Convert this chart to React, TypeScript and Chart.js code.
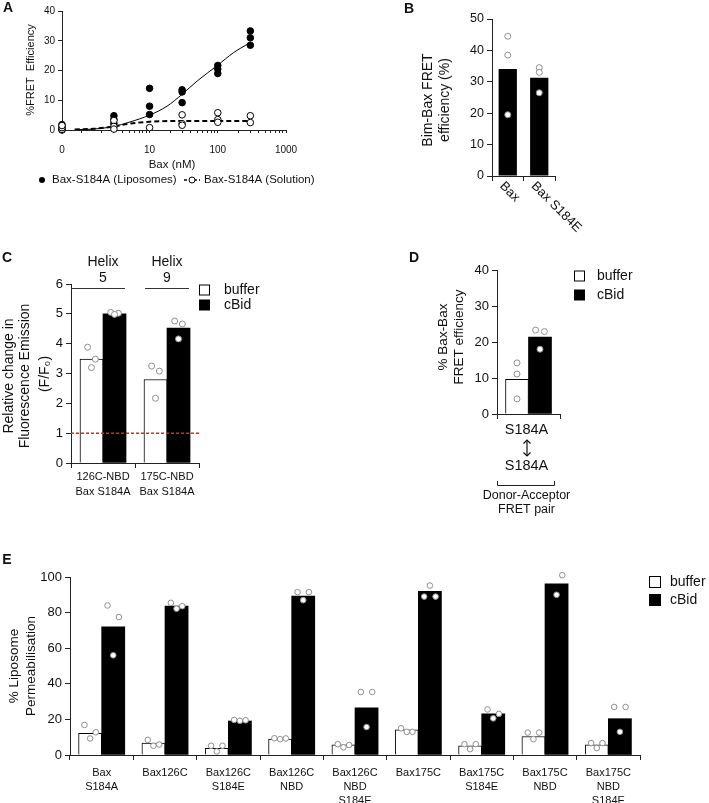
import React, { useEffect, useRef } from 'react';
import { Chart, registerables } from 'chart.js';
Chart.register(...registerables);

const FONT = '"Liberation Sans", Arial, Helvetica, sans-serif';
const INK = '#111111';
const AXIS = '#222222';
const DOT_EDGE = '#8f8f8f';

// ---------------- Panel A ----------------
const A_CONC = [0, 3, 10, 30, 100, 300];
const A_LIPOSOMES = [[0, 0.5, 1.2, 1.8], [4.8, 3.5, 2.2, -2], [14, 8, 5.2], [13.5, 12.8, 9.2], [21.7, 20.5, 19], [33.3, 31, 28.5]];
const A_SOLUTION = [[0.2, 0.8, 1.5], [3.2, 1.2, 0.3], [0.8, -2.5], [5.1, 2.1, 1.6], [5.8, 3.5, 2.6], [4.8, 2.5]];
const A_FIT_LIPO_X = [0.8, 1.5, 3, 5, 10, 18, 30, 50, 100, 170, 300];
const A_FIT_LIPO_Y = [0.1, 0.3, 1.2, 2.6, 5, 8, 12, 16.5, 21.8, 26, 29.4];
const A_FIT_SOL_X = [0.8, 1.5, 3, 5, 10, 20, 300];
const A_FIT_SOL_Y = [0.2, 0.4, 1.2, 2.1, 2.8, 3, 3];
const A_X_MIN = 0.52;
const A_MAJOR_TICKS = [A_X_MIN, 10, 100, 1000];
const A_MAJOR_LABELS = ['0', '10', '100', '1000'];
const A_MINOR_TICKS = [1, 2, 3, 4, 5, 6, 7, 8, 9, 20, 30, 40, 50, 60, 70, 80, 90, 200, 300, 400, 500, 600, 700, 800, 900];
const A_SERIES = ['Bax-S184A (Liposomes)', 'Bax-S184A (Solution)'];

// ---------------- Panel B ----------------
const B_CATS = ['Bax', 'Bax S184E'];
const B_MEANS = [34.1, 31.3];
const B_DOTS = [[44.5, 38.5, 19.5], [34.5, 33, 26.5]];

// ---------------- Panel C ----------------
const C_CATS = [['126C-NBD', 'Bax S184A'], ['175C-NBD', 'Bax S184A']];
const C_HELIX = ['5', '9'];
const C_BUFFER = [3.48, 2.8];
const C_CBID = [5.0, 4.52];
const C_BUFFER_DOTS = [[3.88, 3.48, 3.2], [3.25, 3.08, 2.17]];
const C_CBID_DOTS = [[5.05, 5.02, 4.98], [4.76, 4.66, 4.16]];

// ---------------- Panel D ----------------
const D_CATS = ['S184A'];
const D_BUFFER = [9.6];
const D_CBID = [21.4];
const D_BUFFER_DOTS = [[14.2, 11.1, 4.2]];
const D_CBID_DOTS = [[23.3, 22.9, 18]];

// ---------------- Panel E ----------------
const E_CATS = [['Bax', 'S184A'], ['Bax126C'], ['Bax126C', 'S184E'], ['Bax126C', 'NBD'], ['Bax126C', 'NBD', 'S184E'], ['Bax175C'], ['Bax175C', 'S184E'], ['Bax175C', 'NBD'], ['Bax175C', 'NBD', 'S184E']];
const E_BUFFER = [12.2, 6.7, 3.7, 8.9, 5.7, 14.1, 5.2, 10.4, 5.7];
const E_CBID = [72, 83.6, 19.1, 89.3, 26.5, 92, 23.1, 96.2, 20.4];
const E_BUFFER_DOTS = [[16.9, 12.8, 9.3], [8.5, 5.9, 5.2], [5.2, 5.2, 2], [9.4, 9.3, 8.9], [6.1, 5.6, 4.3], [15, 13, 13], [6.1, 6.1, 3.3], [12.6, 12.6, 8.9], [6.7, 6.7, 3.9]];
const E_CBID_DOTS = [[84, 77.5, 56], [85.5, 83.6, 82.2], [19.7, 19.5, 19.2], [91.5, 91.5, 87], [35.4, 35.4, 15.7], [89, 89, 95.2], [25.6, 23.1, 20.6], [104, 101, 90], [27, 27, 13]];

const LEGEND = ['buffer', 'cBid'];

type Box = { x: number; y: number; w: number; h: number };
type Area = { l: number; t: number; r: number; b: number };

function txt(ctx: CanvasRenderingContext2D, s: string, x: number, y: number, o: any = {}) {
  ctx.save();
  ctx.font = `${o.bold ? 'bold ' : ''}${o.size ?? 13}px ${FONT}`;
  ctx.fillStyle = o.color ?? INK;
  ctx.textAlign = o.align ?? 'center';
  ctx.textBaseline = o.base ?? 'middle';
  ctx.translate(x, y);
  if (o.rot) ctx.rotate(o.rot);
  ctx.fillText(s, 0, 0);
  ctx.restore();
}

function line(ctx: CanvasRenderingContext2D, pts: number[][], color = AXIS, width = 1, dash: number[] = []) {
  ctx.save();
  ctx.strokeStyle = color;
  ctx.lineWidth = width;
  ctx.setLineDash(dash);
  ctx.beginPath();
  pts.forEach((p, i) => (i ? ctx.lineTo(p[0], p[1]) : ctx.moveTo(p[0], p[1])));
  ctx.stroke();
  ctx.restore();
}

function legendBoxes(ctx: CanvasRenderingContext2D, x: number, y1: number, y2: number, size: number, textX: number, fontSize: number) {
  ctx.save();
  ctx.fillStyle = '#fff';
  ctx.strokeStyle = '#000';
  ctx.lineWidth = 1;
  ctx.fillRect(x, y1 - size / 2, size, size);
  ctx.strokeRect(x + 0.5, y1 - size / 2 + 0.5, size - 1, size - 1);
  ctx.fillStyle = '#000';
  ctx.fillRect(x, y2 - size / 2, size, size);
  ctx.restore();
  txt(ctx, LEGEND[0], textX, y1, { size: fontSize, align: 'left' });
  txt(ctx, LEGEND[1], textX, y2, { size: fontSize, align: 'left' });
}

function overlay(box: Box, draw: (ctx: CanvasRenderingContext2D, chart: any) => void) {
  return {
    id: 'overlay',
    afterDraw(chart: any) {
      const ctx = chart.ctx;
      ctx.save();
      ctx.translate(-box.x, -box.y);
      draw(ctx, chart);
      ctx.restore();
    },
  };
}

function layoutFor(box: Box, area: Area) {
  return {
    padding: { left: 0, top: area.t - box.y, right: box.x + box.w - area.r, bottom: 0 },
    yWidth: area.l - box.x,
    xHeight: box.y + box.h - area.b,
  };
}

function yScale(min: number, max: number, step: number, width: number, size: number) {
  return {
    type: 'linear',
    min,
    max,
    ticks: { stepSize: step, font: { family: FONT, size }, color: INK, padding: 3 },
    grid: { drawOnChartArea: false, drawTicks: true, tickLength: 5, color: AXIS },
    border: { display: true, color: AXIS, width: 1 },
    afterFit: (s: any) => { s.width = width; },
  };
}

function catScale(height: number, size: number, showLabels: boolean, lineHeight = 1.3, padding = 2) {
  return {
    type: 'category',
    offset: true,
    ticks: { display: showLabels, font: { family: FONT, size, lineHeight }, color: INK, padding, maxRotation: 0, minRotation: 0, autoSkip: false },
    grid: { offset: true, drawOnChartArea: false, drawTicks: true, tickLength: 5, color: AXIS },
    border: { display: true, color: AXIS, width: 1 },
    afterFit: (s: any) => { s.height = height; },
  };
}

// hidden linear companion of the category axis: category i sits at value i
function posScale(n: number) {
  return { type: 'linear', min: -0.5, max: n - 0.5, offset: false, display: false, grid: { offset: false } };
}

function dotData(groups: number[][], offset: number, jitter: number[]) {
  const out: { x: number; y: number }[] = [];
  groups.forEach((vals, i) => vals.forEach((v, k) => out.push({ x: i + offset + (jitter[k] ?? 0), y: v })));
  return out;
}

function barData(vals: number[], offset: number) {
  return vals.map((v, i) => ({ x: i + offset, y: v }));
}

function barSet(data: any[], fill: string, border: number, barPct = 1) {
  return {
    type: 'bar',
    data,
    xAxisID: 'xp',
    yAxisID: 'y',
    backgroundColor: fill,
    borderColor: '#000',
    borderWidth: border,
    grouped: false,
    barPercentage: barPct,
    categoryPercentage: 1,
    order: 1,
  };
}

function dotSet(data: any[], r: number) {
  return {
    type: 'scatter',
    data,
    xAxisID: 'xp',
    yAxisID: 'y',
    pointRadius: r,
    pointHoverRadius: r,
    pointBackgroundColor: '#ffffff',
    pointBorderColor: DOT_EDGE,
    pointBorderWidth: 1,
    grouped: false,
    clip: false,
    order: -1,
  };
}

const baseOptions = {
  responsive: false,
  animation: false,
  devicePixelRatio: 1,
  events: [],
};

// ---------------- Panel builders ----------------
const BOX_A: Box = { x: 0, y: 0, w: 360, h: 195 };
const BOX_B: Box = { x: 360, y: 0, w: 349, h: 240 };
const BOX_C: Box = { x: 0, y: 245, w: 360, h: 255 };
const BOX_D: Box = { x: 360, y: 245, w: 349, h: 275 };
const BOX_E: Box = { x: 0, y: 540, w: 709, h: 263 };

function buildA(): any {
  const L = layoutFor(BOX_A, { l: 62, t: 11, r: 286, b: 130 });
  const xOf = (c: number) => (c === 0 ? A_X_MIN : c);
  const lipo = A_CONC.flatMap((c, i) => A_LIPOSOMES[i].map((y) => ({ x: xOf(c), y })));
  const sol = A_CONC.flatMap((c, i) => A_SOLUTION[i].map((y) => ({ x: xOf(c), y })));
  const fitLipo = A_FIT_LIPO_X.map((x, i) => ({ x, y: A_FIT_LIPO_Y[i] }));
  const fitSol = A_FIT_SOL_X.map((x, i) => ({ x, y: A_FIT_SOL_Y[i] }));
  return {
    type: 'scatter',
    data: {
      datasets: [
        { label: A_SERIES[1], data: sol, pointRadius: 3.3, pointBackgroundColor: '#fff', pointBorderColor: '#000', pointBorderWidth: 1, clip: false, order: 1 },
        { label: A_SERIES[0], data: lipo, pointRadius: 3.3, pointBackgroundColor: '#000', pointBorderColor: '#000', pointBorderWidth: 1, clip: false, order: 2 },
        { data: fitLipo, showLine: true, borderColor: '#000', borderWidth: 1, pointRadius: 0, cubicInterpolationMode: 'monotone', order: 3 },
        { data: fitSol, showLine: true, borderColor: '#000', borderWidth: 2, borderDash: [5, 3], pointRadius: 0, cubicInterpolationMode: 'monotone', order: 4 },
      ],
    },
    options: {
      ...baseOptions,
      layout: { padding: L.padding },
      plugins: { legend: { display: false }, tooltip: { enabled: false } },
      scales: {
        x: {
          type: 'logarithmic',
          min: A_X_MIN,
          max: 1000,
          afterBuildTicks: (s: any) => {
            s.ticks = [...A_MAJOR_TICKS, ...A_MINOR_TICKS].sort((a, b) => a - b).map((v) => ({ value: v }));
          },
          ticks: {
            autoSkip: false,
            maxRotation: 0,
            minRotation: 0,
            padding: 11,
            font: { family: FONT, size: 10 },
            color: INK,
            callback: (v: number) => {
              const i = A_MAJOR_TICKS.indexOf(v);
              return i >= 0 ? A_MAJOR_LABELS[i] : '';
            },
          },
          grid: { drawOnChartArea: false, drawTicks: true, tickLength: 3, color: AXIS },
          border: { display: true, color: AXIS, width: 1 },
          afterFit: (s: any) => { s.height = L.xHeight; },
        },
        y: {
          ...yScale(0, 40, 10, L.yWidth, 10),
          grid: { drawOnChartArea: false, drawTicks: true, tickLength: 4, color: AXIS },
        },
      },
    },
    plugins: [
      overlay(BOX_A, (ctx) => {
        txt(ctx, 'A', 8, 8, { size: 14, bold: true });
        txt(ctx, '%FRET  Efficiency', 31, 70, { size: 11, rot: -Math.PI / 2 });
        txt(ctx, 'Bax (nM)', 172, 165, { size: 11.5 });
        ctx.save();
        ctx.fillStyle = '#000';
        ctx.beginPath();
        ctx.arc(42, 180, 3, 0, Math.PI * 2);
        ctx.fill();
        ctx.restore();
        txt(ctx, A_SERIES[0], 52, 180, { size: 11.5, align: 'left' });
        line(ctx, [[184, 180], [200, 180]], '#000', 1.5, [3, 2]);
        ctx.save();
        ctx.fillStyle = '#fff';
        ctx.strokeStyle = '#000';
        ctx.beginPath();
        ctx.arc(192, 180, 3, 0, Math.PI * 2);
        ctx.fill();
        ctx.stroke();
        ctx.restore();
        txt(ctx, A_SERIES[1], 204, 180, { size: 11.5, align: 'left' });
      }),
    ],
  };
}

function buildB(): any {
  const L = layoutFor(BOX_B, { l: 492, t: 19, r: 555, b: 176 });
  return {
    type: 'bar',
    data: {
      labels: B_CATS,
      datasets: [
        barSet(barData(B_MEANS, 0), '#000', 0, 0.58),
        dotSet(dotData(B_DOTS, 0, [0, 0, 0]), 3),
      ],
    },
    options: {
      ...baseOptions,
      layout: { padding: L.padding },
      plugins: { legend: { display: false }, tooltip: { enabled: false } },
      scales: {
        x: catScale(L.xHeight, 12, false),
        xp: posScale(B_CATS.length),
        y: yScale(0, 50, 10, L.yWidth, 12.5),
      },
    },
    plugins: [
      overlay(BOX_B, (ctx, chart) => {
        txt(ctx, 'B', 409, 9, { size: 14, bold: true });
        txt(ctx, 'Bim-Bax FRET', 428, 100, { size: 14, rot: -Math.PI / 2 });
        txt(ctx, 'efficiency (%)', 445, 100, { size: 14, rot: -Math.PI / 2 });
        const xs = chart.scales.x;
        B_CATS.forEach((c, i) => {
          const px = xs.getPixelForValue(i) + BOX_B.x;
          txt(ctx, c, px - 6, 184, { size: 13, align: 'left', rot: Math.PI / 4 });
        });
      }),
    ],
  };
}

function buildC(): any {
  const L = layoutFor(BOX_C, { l: 71, t: 284, r: 199, b: 463 });
  const off = 0.18;
  const jit = [-0.06, 0.06, 0];
  return {
    type: 'bar',
    data: {
      labels: C_CATS,
      datasets: [
        barSet(barData(C_BUFFER, -off), '#fff', 1),
        barSet(barData(C_CBID, off), '#000', 0),
        dotSet(dotData(C_BUFFER_DOTS, -off, jit), 3),
        dotSet(dotData(C_CBID_DOTS, off, jit), 3),
      ],
    },
    options: {
      ...baseOptions,
      layout: { padding: L.padding },
      plugins: { legend: { display: false }, tooltip: { enabled: false } },
      scales: {
        x: catScale(L.xHeight, 11, true, 1.35, 2),
        xp: posScale(C_CATS.length),
        y: yScale(0, 6, 1, L.yWidth, 13),
      },
    },
    plugins: [
      overlay(BOX_C, (ctx, chart) => {
        const ys = chart.scales.y;
        const xs = chart.scales.x;
        const a = chart.chartArea;
        const y1 = ys.getPixelForValue(1) + BOX_C.y;
        line(ctx, [[a.left + BOX_C.x, y1], [a.right + BOX_C.x + 1, y1]], '#d42a2a', 1.5, [3, 2]);
        txt(ctx, 'C', 7, 258, { size: 14, bold: true });
        txt(ctx, 'Relative change in', 9, 376, { size: 14, rot: -Math.PI / 2 });
        txt(ctx, 'Fluorescence Emission', 25, 376, { size: 14, rot: -Math.PI / 2 });
        txt(ctx, '(F/F\u2080)', 45, 374, { size: 14, rot: -Math.PI / 2 });
        C_HELIX.forEach((h, i) => {
          const cx = xs.getPixelForValue(i) + BOX_C.x;
          txt(ctx, 'Helix', cx, 262, { size: 14 });
          txt(ctx, h, cx, 278, { size: 14 });
          const left = i === 0 ? a.left + BOX_C.x : cx - 22;
          line(ctx, [[left, 288.5], [cx + 22, 288.5]], '#333', 1);
        });
        legendBoxes(ctx, 199, 290, 305, 11, 224, 14);
      }),
    ],
  };
}

function buildD(): any {
  const L = layoutFor(BOX_D, { l: 497, t: 270, r: 560, b: 414 });
  const off = 0.1825;
  return {
    type: 'bar',
    data: {
      labels: D_CATS,
      datasets: [
        barSet(barData(D_BUFFER, -off), '#fff', 1),
        barSet(barData(D_CBID, off), '#000', 0),
        dotSet(dotData(D_BUFFER_DOTS, -off, [0, 0, 0]), 3),
        dotSet(dotData(D_CBID_DOTS, off, [-0.07, 0.07, 0]), 3),
      ],
    },
    options: {
      ...baseOptions,
      layout: { padding: L.padding },
      plugins: { legend: { display: false }, tooltip: { enabled: false } },
      scales: {
        x: catScale(L.xHeight, 12, false),
        xp: posScale(D_CATS.length),
        y: yScale(0, 40, 10, L.yWidth, 13),
      },
    },
    plugins: [
      overlay(BOX_D, (ctx, chart) => {
        const cx = chart.scales.x.getPixelForValue(0) + BOX_D.x - 2;
        txt(ctx, 'D', 414, 258, { size: 14, bold: true });
        txt(ctx, '% Bax-Bax', 443, 337, { size: 13.5, rot: -Math.PI / 2 });
        txt(ctx, 'FRET efficiency', 459, 337, { size: 13.5, rot: -Math.PI / 2 });
        legendBoxes(ctx, 574, 276, 295, 11, 597, 14);
        txt(ctx, D_CATS[0], cx, 430, { size: 14.5 });
        line(ctx, [[cx + 0.5, 440], [cx + 0.5, 456]], '#111', 1.2);
        line(ctx, [[cx - 3, 443.5], [cx + 0.5, 440], [cx + 4, 443.5]], '#111', 1.2);
        line(ctx, [[cx - 3, 452.5], [cx + 0.5, 456], [cx + 4, 452.5]], '#111', 1.2);
        txt(ctx, D_CATS[0], cx, 466, { size: 14.5 });
        line(ctx, [[497.5, 481], [497.5, 485.5], [554.5, 485.5], [554.5, 481]], '#222', 1);
        txt(ctx, 'Donor-Acceptor', cx, 496, { size: 12.5 });
        txt(ctx, 'FRET pair', cx, 510, { size: 12.5 });
      }),
    ],
  };
}

function buildE(): any {
  const L = layoutFor(BOX_E, { l: 70, t: 577, r: 640, b: 755 });
  const off = 0.1825;
  const jit = [-0.09, 0.09, 0];
  return {
    type: 'bar',
    data: {
      labels: E_CATS,
      datasets: [
        barSet(barData(E_BUFFER, -off), '#fff', 1),
        barSet(barData(E_CBID, off), '#000', 0),
        dotSet(dotData(E_BUFFER_DOTS, -off, jit), 2.8),
        dotSet(dotData(E_CBID_DOTS, off, jit), 2.8),
      ],
    },
    options: {
      ...baseOptions,
      layout: { padding: L.padding },
      plugins: { legend: { display: false }, tooltip: { enabled: false } },
      scales: {
        x: catScale(L.xHeight, 11, true, 1.27, 6),
        xp: posScale(E_CATS.length),
        y: yScale(0, 100, 20, L.yWidth, 13),
      },
    },
    plugins: [
      overlay(BOX_E, (ctx) => {
        txt(ctx, 'E', 7, 560, { size: 14, bold: true });
        txt(ctx, '% Liposome', 14, 666, { size: 13.5, rot: -Math.PI / 2 });
        txt(ctx, 'Permeabilisation', 31, 666, { size: 13.5, rot: -Math.PI / 2 });
        legendBoxes(ctx, 649, 582, 600, 12, 670, 14);
      }),
    ],
  };
}

function Panel({ box, build }: { box: Box; build: () => any }) {
  const ref = useRef<HTMLCanvasElement>(null);
  useEffect(() => {
    const chart = new Chart(ref.current as HTMLCanvasElement, build());
    return () => chart.destroy();
  }, []);
  return (
    <canvas
      ref={ref}
      width={box.w}
      height={box.h}
      style={{ position: 'absolute', left: box.x, top: box.y, width: box.w, height: box.h }}
    />
  );
}

export default function App() {
  return (
    <div style={{ position: 'absolute', left: 0, top: 0, width: 709, height: 803, background: '#fff', overflow: 'hidden' }}>
      <Panel box={BOX_A} build={buildA} />
      <Panel box={BOX_B} build={buildB} />
      <Panel box={BOX_C} build={buildC} />
      <Panel box={BOX_D} build={buildD} />
      <Panel box={BOX_E} build={buildE} />
    </div>
  );
}
